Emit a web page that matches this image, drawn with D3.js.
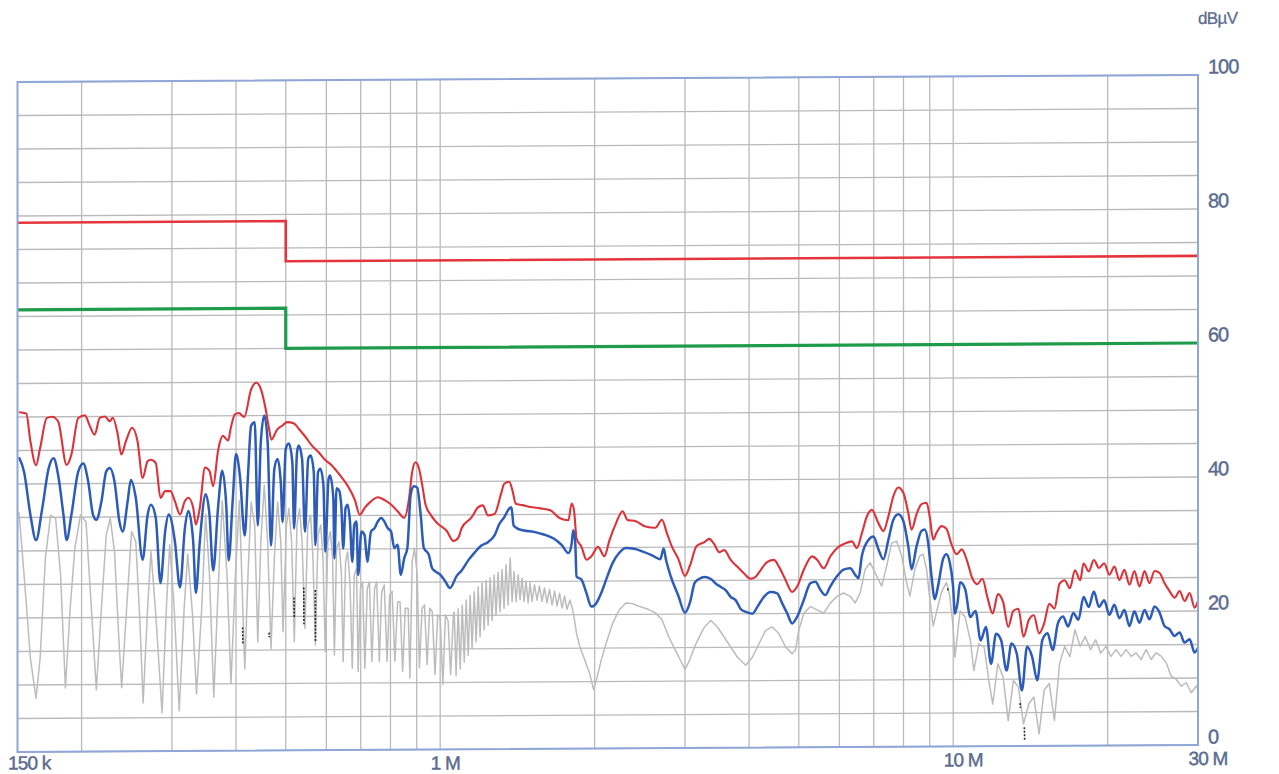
<!DOCTYPE html>
<html>
<head>
<meta charset="utf-8">
<script src="https://cdn.jsdelivr.net/npm/d3@7"></script>
<style>
  html, body { margin: 0; padding: 0; background: #ffffff; }
  svg { display: block; }
</style>
</head>
<body>
<svg id="chart" width="1279" height="774"></svg>
<script>
// Conducted emission scan, 150 kHz – 30 MHz, levels in dBµV.

// Axis ticks and labels
const freqTicks = [0.15, 1, 10, 30];
const freqTickText = ["150 k", "1 M", "10 M", "30 M"];
const levelTicks = [0, 20, 40, 60, 80, 100];
const levelUnit = "dBµV";

// Limit lines (MHz, dBµV)
const qpLimit = [[0.15, 79], [0.5, 79], [0.5, 73], [30, 73]];
const avLimit = [[0.15, 66], [0.5, 66], [0.5, 60], [30, 60]];

// Peak detector trace (MHz, dBµV)
const peakTrace = [
  [0.151,50.7],[0.156,50.5],[0.159,46.3],[0.163,42.8],[0.166,45.3],[0.171,49.8],[0.175,50.0],[0.180,49.3],
  [0.187,42.8],[0.191,44.3],[0.197,49.8],[0.203,50.2],[0.207,48.8],[0.212,47.3],[0.217,49.8],[0.222,50.0],
  [0.227,49.3],[0.230,49.8],[0.235,47.5],[0.239,44.3],[0.244,46.3],[0.251,48.3],[0.257,46.3],[0.263,40.8],
  [0.269,43.3],[0.273,43.5],[0.279,43.0],[0.285,37.8],[0.291,38.8],[0.298,38.8],[0.304,37.3],[0.311,35.3],
  [0.318,37.3],[0.323,37.8],[0.330,36.3],[0.334,33.8],[0.340,36.3],[0.348,42.3],[0.355,41.8],[0.361,39.5],
  [0.369,44.8],[0.377,47.0],[0.386,46.3],[0.391,48.3],[0.398,50.2],[0.405,50.4],[0.415,49.8],[0.428,53.9],
  [0.438,54.9],[0.447,54.0],[0.456,51.3],[0.463,48.4],[0.469,46.4],[0.481,47.9],[0.493,48.5],[0.503,49.0],
  [0.519,48.8],[0.530,48.0],[0.546,46.8],[0.562,45.5],[0.579,44.5],[0.597,43.3],[0.615,42.5],[0.638,41.0],
  [0.662,39.3],[0.682,37.3],[0.697,35.1],[0.712,36.1],[0.733,37.1],[0.756,37.7],[0.778,37.3],[0.802,36.6],
  [0.826,35.6],[0.851,34.6],[0.870,37.6],[0.882,41.5],[0.895,42.9],[0.909,42.0],[0.922,39.6],[0.936,36.6],
  [0.957,35.1],[0.986,33.8],[1.030,32.6],[1.061,31.1],[1.085,31.6],[1.101,33.0],[1.151,34.6],[1.185,36.1],
  [1.211,36.4],[1.239,34.9],[1.276,35.1],[1.314,38.1],[1.333,39.6],[1.363,39.9],[1.383,38.6],[1.404,36.6],
  [1.446,36.4],[1.500,36.1],[1.568,35.9],[1.639,35.6],[1.713,34.4],[1.778,34.1],[1.804,36.6],[1.823,35.6],
  [1.844,31.4],[1.886,30.1],[1.928,28.2],[1.971,28.7],[2.030,30.1],[2.090,28.7],[2.138,31.1],[2.201,33.6],
  [2.267,35.4],[2.318,34.1],[2.405,33.9],[2.513,33.1],[2.627,32.9],[2.705,34.1],[2.766,32.1],[2.828,30.1],
  [2.913,28.2],[3.000,25.7],[3.067,27.2],[3.159,30.1],[3.272,30.7],[3.345,31.2],[3.421,30.4],[3.498,29.2],
  [3.578,29.5],[3.686,28.0],[3.797,27.0],[3.912,26.0],[4.030,25.2],[4.121,25.5],[4.214,26.5],[4.342,27.7],
  [4.472,28.0],[4.573,27.0],[4.711,25.0],[4.853,23.2],[4.963,24.0],[5.114,26.5],[5.308,28.5],[5.428,28.0],
  [5.592,26.7],[5.761,28.5],[5.934,29.7],[6.159,30.4],[6.346,30.7],[6.489,29.7],[6.636,31.9],[6.786,34.4],
  [6.939,35.4],[7.148,33.4],[7.310,32.2],[7.475,34.4],[7.644,37.4],[7.816,38.7],[7.993,37.9],[8.173,34.9],
  [8.296,32.4],[8.483,34.7],[8.674,36.2],[8.870,36.4],[9.004,34.2],[9.139,30.9],[9.275,31.9],[9.485,32.9],
  [9.699,32.5],[9.92,30.2],[10.15,28.7],[10.39,29.4],[10.64,27.7],[10.88,25.2],[11.14,24.2],[11.40,25.0],
  [11.66,22.2],[11.94,19.8],[12.22,22.7],[12.51,21.5],[12.80,17.8],[13.10,20.2],[13.40,20.5],[13.71,16.3],
  [14.04,18.8],[14.36,19.5],[14.70,16.8],[15.04,18.3],[15.39,21.2],[15.75,20.5],[16.12,24.2],[16.49,24.7],
  [16.88,23.5],[17.27,26.2],[17.68,24.7],[17.95,27.2],[18.37,26.0],[18.80,27.7],[19.24,26.5],[19.69,27.2],
  [20.15,25.5],[20.61,26.7],[21.08,24.7],[21.56,26.2],[22.05,24.0],[22.55,26.0],[23.07,23.7],[23.60,26.0],
  [24.13,24.2],[24.68,26.0],[25.25,25.7],[25.81,24.2],[26.40,23.0],[27.01,22.0],[27.62,23.0],[28.25,21.5],
  [28.89,22.7],[29.55,20.5],[30.0,21.5]
];

// Quasi-peak detector trace (MHz, dBµV)
const qpTrace = [
  [0.151,44.0],[0.1545,41.8],[0.159,35.3],[0.163,31.6],[0.1676,36.3],[0.1725,42.3],[0.1764,43.8],[0.180,41.3],
  [0.1844,35.3],[0.187,31.6],[0.191,35.3],[0.197,41.8],[0.2015,43.0],[0.206,40.3],[0.2106,35.3],[0.2137,34.6],
  [0.2186,37.3],[0.2234,41.8],[0.227,42.3],[0.2318,40.3],[0.237,34.3],[0.2405,32.8],[0.2459,37.3],[0.2495,40.5],
  [0.2551,37.8],[0.263,28.6],[0.269,35.3],[0.273,36.8],[0.279,34.8],[0.285,25.1],[0.291,32.8],[0.2957,35.3],
  [0.304,31.3],[0.311,24.4],[0.318,33.3],[0.323,35.8],[0.330,31.3],[0.334,23.6],[0.340,31.3],[0.349,38.3],
  [0.355,35.3],[0.361,26.9],[0.369,36.3],[0.376,41.8],[0.383,36.3],[0.387,28.4],[0.394,37.3],[0.400,44.3],
  [0.407,41.0],[0.416,32.1],[0.422,41.0],[0.428,48.5],[0.435,49.0],[0.441,33.6],[0.447,46.0],[0.454,50.0],
  [0.461,46.0],[0.468,30.6],[0.475,42.0],[0.482,43.5],[0.489,40.0],[0.493,34.1],[0.500,45.0],[0.507,45.8],
  [0.515,43.0],[0.519,33.1],[0.526,44.5],[0.530,45.5],[0.538,43.5],[0.545,32.6],[0.553,43.5],[0.559,44.0],
  [0.567,41.5],[0.571,30.6],[0.578,41.5],[0.584,42.0],[0.592,39.6],[0.597,29.6],[0.606,40.5],[0.610,41.0],
  [0.619,37.6],[0.622,28.6],[0.628,39.1],[0.635,38.8],[0.642,36.1],[0.647,30.1],[0.654,36.1],[0.660,36.6],
  [0.667,34.1],[0.674,28.1],[0.680,33.6],[0.687,34.1],[0.692,26.1],[0.702,32.6],[0.712,32.1],[0.721,28.1],
  [0.733,32.6],[0.745,33.1],[0.756,34.1],[0.767,34.6],[0.778,34.1],[0.790,33.1],[0.802,32.6],[0.814,30.1],
  [0.826,30.6],[0.838,26.1],[0.851,28.6],[0.863,30.1],[0.876,38.1],[0.889,39.3],[0.902,39.1],[0.916,35.1],
  [0.929,30.1],[0.950,29.1],[0.964,27.1],[0.978,26.6],[1.000,26.1],[1.023,25.1],[1.045,24.1],[1.077,25.9],
  [1.101,26.7],[1.134,28.2],[1.168,29.4],[1.203,30.4],[1.239,30.9],[1.276,31.9],[1.304,33.6],[1.333,34.6],
  [1.363,35.9],[1.377,36.1],[1.390,33.4],[1.415,32.9],[1.457,32.6],[1.523,32.4],[1.592,32.0],[1.664,31.4],
  [1.726,30.4],[1.778,29.2],[1.804,30.6],[1.817,32.6],[1.833,30.9],[1.844,25.7],[1.886,25.2],[1.928,23.2],
  [1.971,21.2],[2.015,21.7],[2.060,23.2],[2.106,25.2],[2.169,27.7],[2.234,29.2],[2.301,29.9],[2.387,29.8],
  [2.476,29.4],[2.588,28.8],[2.686,28.2],[2.726,29.8],[2.754,28.2],[2.807,25.9],[2.913,22.7],[3.000,20.2],
  [3.067,21.7],[3.136,24.7],[3.230,25.4],[3.272,25.5],[3.370,25.2],[3.447,24.5],[3.525,24.0],[3.604,23.5],
  [3.686,22.5],[3.769,22.0],[3.854,20.7],[3.970,20.2],[4.060,20.0],[4.152,21.0],[4.277,22.5],[4.406,23.2],
  [4.539,23.0],[4.642,21.5],[4.747,20.0],[4.853,18.5],[4.963,19.5],[5.114,22.0],[5.269,24.5],[5.388,24.7],
  [5.509,23.5],[5.633,22.7],[5.761,24.0],[5.934,25.5],[6.113,26.5],[6.299,26.7],[6.441,25.7],[6.537,25.2],
  [6.636,28.5],[6.836,30.9],[6.990,31.4],[7.148,29.5],[7.310,28.0],[7.475,30.9],[7.644,33.9],[7.816,34.7],
  [7.993,33.7],[8.173,29.9],[8.296,26.5],[8.483,29.9],[8.674,32.2],[8.804,32.4],[8.937,30.4],[9.070,25.5],
  [9.206,22.0],[9.344,24.0],[9.556,28.0],[9.699,28.7],[9.844,27.5],[9.991,24.0],[10.08,19.8],[10.20,21.5],
  [10.31,24.5],[10.55,23.5],[10.80,19.3],[11.05,20.2],[11.31,15.8],[11.58,17.8],[11.85,12.3],[12.12,16.8],
  [12.40,15.8],[12.70,11.3],[12.99,15.3],[13.30,13.8],[13.61,8.3],[13.93,14.8],[14.25,13.3],[14.58,9.8],
  [14.92,15.8],[15.27,16.8],[15.63,14.3],[16.00,18.3],[16.37,19.3],[16.75,17.8],[17.14,19.8],[17.54,18.8],
  [17.95,22.2],[18.37,20.7],[18.80,23.0],[19.24,20.7],[19.69,21.7],[20.15,19.5],[20.61,21.0],[21.08,19.0],
  [21.56,20.2],[22.05,17.8],[22.55,20.0],[23.07,18.3],[23.60,20.2],[24.13,18.8],[24.68,20.7],[25.25,19.8],
  [25.81,17.8],[26.40,17.3],[27.01,16.3],[27.62,16.8],[28.25,15.3],[28.89,15.8],[29.55,13.8],[30.0,14.5]
];

// Average detector trace (MHz, dBµV)
const avgTrace = [
  [0.151,35.8],[0.1545,26.4],[0.159,13.9],[0.163,8.0],[0.166,13.9],[0.170,28.9],[0.174,35.3],[0.178,34.8],
  [0.182,26.4],[0.186,9.5],[0.190,21.4],[0.194,30.3],[0.199,35.3],[0.204,34.3],[0.208,23.9],[0.2137,9.2],
  [0.2186,21.4],[0.2234,32.3],[0.2274,34.8],[0.2318,29.9],[0.236,17.9],[0.2394,9.5],[0.2448,21.4],[0.2503,32.8],
  [0.2551,31.3],[0.260,18.9],[0.2636,7.2],[0.269,21.4],[0.273,29.9],[0.279,20.4],[0.287,5.7],[0.2926,21.4],
  [0.297,30.8],[0.303,21.4],[0.310,6.0],[0.317,21.4],[0.322,29.4],[0.329,20.4],[0.335,8.5],[0.343,21.4],
  [0.349,35.3],[0.355,26.4],[0.362,8.0],[0.369,23.9],[0.376,37.3],[0.384,26.4],[0.391,10.0],[0.399,26.4],
  [0.406,37.3],[0.416,12.2],[0.422,26.1],[0.428,37.1],[0.435,33.6],[0.441,16.2],[0.447,31.1],[0.454,39.6],
  [0.461,31.1],[0.468,15.2],[0.475,28.6],[0.482,37.1],[0.489,31.1],[0.494,17.7],[0.5015,33.6],[0.507,36.1],
  [0.5134,31.1],[0.5196,16.2],[0.5257,33.6],[0.532,36.1],[0.538,31.1],[0.545,18.2],[0.552,33.6],[0.559,35.1],
  [0.565,28.6],[0.571,15.7],[0.578,32.1],[0.585,33.6],[0.591,28.6],[0.597,14.7],[0.604,31.1],[0.611,32.6],
  [0.617,28.6],[0.622,14.2],[0.628,30.1],[0.635,31.1],[0.642,26.1],[0.647,13.2],[0.654,28.1],[0.660,29.6],
  [0.667,25.1],[0.674,12.2],[0.680,26.1],[0.687,27.1],[0.692,11.7],[0.699,24.1],[0.706,25.1],[0.713,12.2],
  [0.721,24.1],[0.728,25.1],[0.736,13.2],[0.745,24.1],[0.752,25.1],[0.761,13.2],[0.769,23.6],[0.778,24.6],
  [0.788,13.2],[0.797,23.1],[0.806,23.6],[0.816,13.2],[0.826,22.1],[0.835,22.1],[0.845,11.7],[0.855,21.1],
  [0.866,21.1],[0.873,10.7],[0.882,28.1],[0.891,30.1],[0.902,26.1],[0.911,12.2],[0.922,21.1],[0.932,21.6],
  [0.943,12.7],[0.954,21.1],[0.965,20.6],[0.977,11.2],[0.989,20.1],[1.000,19.7],[1.012,9.7],[1.024,20.1],
  [1.036,19.2],[1.048,11.2],[1.061,20.1],[1.065,20.5],[1.074,11.0],[1.084,21.0],[1.094,12.0],[1.104,21.5],
  [1.114,13.0],[1.124,22.3],[1.134,14.0],[1.144,23.0],[1.154,15.0],[1.165,23.5],[1.175,16.0],[1.186,24.2],
  [1.196,16.8],[1.207,24.8],[1.218,17.8],[1.229,25.2],[1.240,18.5],[1.251,25.6],[1.262,19.2],[1.274,26.0],
  [1.285,20.0],[1.297,26.4],[1.308,20.5],[1.320,26.8],[1.332,21.0],[1.344,27.5],[1.356,21.5],[1.369,28.5],
  [1.381,22.0],[1.393,26.5],[1.406,22.0],[1.419,26.0],[1.431,22.3],[1.444,25.5],[1.457,22.0],[1.470,25.0],
  [1.484,21.8],[1.497,24.8],[1.510,22.0],[1.527,24.5],[1.544,22.2],[1.561,24.3],[1.579,22.0],[1.597,24.0],
  [1.615,21.8],[1.633,23.8],[1.652,21.5],[1.671,23.5],[1.690,21.3],[1.709,23.2],[1.728,21.0],[1.748,22.8],
  [1.767,20.8],[1.790,22.2],[1.806,21.2],[1.823,19.7],[1.844,17.2],[1.872,15.2],[1.914,13.2],[1.956,11.2],
  [1.991,8.8],[2.015,10.2],[2.060,13.2],[2.106,15.7],[2.169,18.7],[2.234,20.7],[2.301,21.7],[2.370,21.6],
  [2.440,21.2],[2.550,20.7],[2.627,20.2],[2.705,19.2],[2.786,16.7],[2.870,14.7],[2.957,12.7],[3.000,11.7],
  [3.067,13.2],[3.136,15.2],[3.230,17.2],[3.272,18.0],[3.370,19.0],[3.473,18.0],[3.578,16.5],[3.686,15.0],
  [3.797,13.5],[3.941,12.3],[4.060,13.5],[4.183,15.5],[4.309,17.5],[4.439,18.0],[4.573,17.0],[4.711,15.0],
  [4.853,14.0],[4.926,14.5],[5.001,17.5],[5.114,20.0],[5.269,21.0],[5.428,20.5],[5.592,20.0],[5.761,21.5],
  [5.934,22.5],[6.113,23.0],[6.299,22.5],[6.441,21.5],[6.586,23.0],[6.734,26.5],[6.886,27.5],[7.041,26.0],
  [7.255,24.0],[7.419,27.0],[7.587,30.4],[7.758,30.7],[7.933,28.5],[8.111,24.5],[8.233,22.5],[8.419,26.5],
  [8.609,28.5],[8.739,28.7],[8.870,26.5],[9.004,22.0],[9.139,18.0],[9.275,20.0],[9.485,23.0],[9.699,24.5],
  [9.844,22.5],[9.991,18.0],[10.08,13.3],[10.31,20.2],[10.55,19.3],[10.80,15.8],[10.97,11.3],[11.22,15.3],
  [11.49,14.8],[11.76,9.3],[11.94,6.3],[12.22,12.3],[12.51,10.3],[12.80,3.8],[13.10,9.8],[13.40,8.8],
  [13.71,3.3],[14.04,6.3],[14.36,7.3],[14.70,1.8],[15.04,8.3],[15.39,9.3],[15.75,3.8],[16.12,12.3],
  [16.49,14.8],[16.88,13.3],[17.27,17.3],[17.68,14.8],[18.09,16.3],[18.52,14.3],[18.95,15.8],[19.39,13.8],
  [19.85,14.8],[20.30,13.3],[20.76,14.3],[21.24,13.3],[21.72,14.3],[22.22,13.3],[22.72,13.8],[23.24,12.8],
  [23.77,14.3],[24.31,12.8],[24.87,13.8],[25.43,13.3],[26.01,12.3],[26.60,10.3],[27.21,9.8],[27.83,8.8],
  [28.46,9.3],[29.11,7.8],[29.78,8.8],[30.0,8.3]
];

// Short dark trace fragments (null separates fragments)
const darkTrace = [
  [0.412,18.4],[0.4125,15.9], null,
  [0.464,17.6],[0.4645,16.9], null,
  [0.519,22.8],[0.5195,19.8], null,
  [0.542,24.3],[0.5425,18.8], null,
  [0.571,23.9],[0.5715,16.1], null,
  [9.76,23.6],[9.77,23.1], null,
  [13.50,6.4],[13.52,5.7], null,
  [13.76,2.8],[13.78,0.9]
];

// ---- layout ----
const plot = { left: 17.5, right: 1198, top: 82.1, bottom: 752.1 };
const textColor = "#5b6c8e";
const fontFamily = "'Liberation Sans', Arial, sans-serif";

const x = d3.scaleLog().domain([0.15, 30]).range([plot.left, plot.right]);
const y = d3.scaleLinear().domain([0, 100]).range([plot.bottom, plot.top]);

const svg = d3.select("#chart");
// the whole sheet leans slightly: right side sits a few pixels higher
const g = svg.append("g").attr("transform", "skewY(-0.34)");

// grid
const grid = g.append("g").attr("stroke", "#bababa").attr("stroke-width", 1.3);
grid.selectAll("line.h").data(y.ticks(20)).join("line").attr("class", "h")
  .attr("x1", plot.left).attr("x2", plot.right)
  .attr("y1", d => y(d)).attr("y2", d => y(d));
grid.selectAll("line.v").data(x.ticks().filter(f => f > 0.151 && f < 29.9)).join("line").attr("class", "v")
  .attr("x1", d => x(d)).attr("x2", d => x(d))
  .attr("y1", plot.top).attr("y2", plot.bottom);

const line = d3.line()
  .defined(d => d !== null)
  .x(d => x(d[0]))
  .y(d => y(d[1]));
const smoothLine = d3.line()
  .curve(d3.curveMonotoneX)
  .x(d => x(d[0]))
  .y(d => y(d[1]));

// limit lines
g.append("path").datum(qpLimit).attr("d", line)
  .attr("fill", "none").attr("stroke", "#e4353c").attr("stroke-width", 2.6);
g.append("path").datum(avLimit).attr("d", line)
  .attr("fill", "none").attr("stroke", "#1f9c4a").attr("stroke-width", 3.2);

// measured traces
g.append("path").datum(avgTrace).attr("d", line)
  .attr("fill", "none").attr("stroke", "#bcbcbc").attr("stroke-width", 1.5)
  .attr("stroke-linejoin", "round");
g.append("path").datum(peakTrace).attr("d", smoothLine)
  .attr("fill", "none").attr("stroke", "#dc3239").attr("stroke-width", 2.1)
  .attr("stroke-linejoin", "round");
g.append("path").datum(qpTrace).attr("d", smoothLine)
  .attr("fill", "none").attr("stroke", "#2c5cb8").attr("stroke-width", 2.5)
  .attr("stroke-linejoin", "round");
g.append("path").datum(darkTrace).attr("d", line)
  .attr("fill", "none").attr("stroke", "#2a2a2a").attr("stroke-width", 1.6)
  .attr("stroke-dasharray", "2,1.5");

// frame
g.append("rect")
  .attr("x", plot.left).attr("y", plot.top)
  .attr("width", plot.right - plot.left).attr("height", plot.bottom - plot.top)
  .attr("fill", "none").attr("stroke", "#8ea6d8").attr("stroke-width", 2);

// frequency axis labels (first one kept clear of the page bottom)
const xAxis = d3.axisBottom(x).tickValues(freqTicks)
  .tickFormat((d, i) => freqTickText[i]).tickSize(0);
const xg = g.append("g").attr("transform", `translate(0,${plot.bottom})`).call(xAxis);
xg.select(".domain").remove();
xg.attr("font-family", fontFamily).attr("font-size", 19);
xg.selectAll("text")
  .attr("text-anchor", "start").attr("x", -10)
  .attr("y", (d, i) => (i === 0 ? 17.5 : 20)).attr("dy", null)
  .attr("fill", textColor).attr("stroke", textColor).attr("stroke-width", 0.45)
  .style("letter-spacing", "-0.8px");

// level axis labels
const yAxis = d3.axisRight(y).tickValues(levelTicks).tickSize(0).tickPadding(10);
const yg = g.append("g").attr("transform", `translate(${plot.right},0)`).call(yAxis);
yg.select(".domain").remove();
yg.attr("font-family", fontFamily).attr("font-size", 20);
yg.selectAll("text").attr("dy", -2)
  .attr("fill", textColor).attr("stroke", textColor).attr("stroke-width", 0.45)
  .style("letter-spacing", "-1px");

// unit label
g.append("text")
  .attr("x", plot.right).attr("y", plot.top - 51)
  .attr("font-family", fontFamily).attr("font-size", 17)
  .attr("fill", textColor).attr("stroke", textColor).attr("stroke-width", 0.3)
  .style("letter-spacing", "-0.6px")
  .text(levelUnit);
</script>
</body>
</html>
